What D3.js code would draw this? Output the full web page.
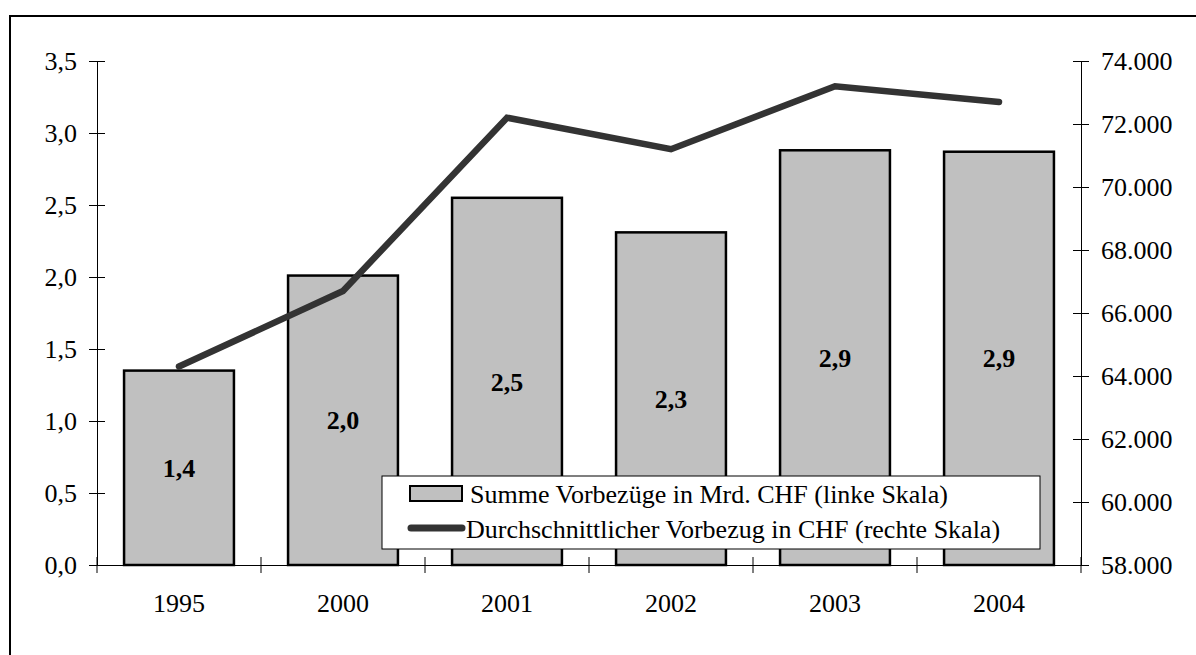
<!DOCTYPE html>
<html>
<head>
<meta charset="utf-8">
<script src="https://cdn.jsdelivr.net/npm/d3@7"></script>
<style>
  body { margin: 0; background: #fff; }
  svg text { font-family: "Liberation Serif", "Times New Roman", serif; fill: #000; }
</style>
</head>
<body>
<div id="chart"></div>
<script>
// data
var years = ["1995", "2000", "2001", "2002", "2003", "2004"];
var summeMrd = [1.35, 2.01, 2.55, 2.31, 2.88, 2.87];
var summeLabels = ["1,4", "2,0", "2,5", "2,3", "2,9", "2,9"];
var avgVorbezug = [64300, 66700, 72200, 71200, 73200, 72700];
var leftTicks = [0, 0.5, 1, 1.5, 2, 2.5, 3, 3.5];
var rightTicks = [58000, 60000, 62000, 64000, 66000, 68000, 70000, 72000, 74000];
var legendNames = [
  "Summe Vorbezüge in Mrd. CHF (linke Skala)",
  "Durchschnittlicher Vorbezug in CHF (rechte Skala)"
];

var W = 1196, H = 655;
var margin = { top: 61, right: 115, bottom: 90, left: 97 },
  width = 1081 - margin.left,
  height = 565 - margin.top;
var fontSize = "26px";

var de = d3.formatLocale({ decimal: ",", thousands: ".", grouping: [3], currency: ["", ""] });

var svg = d3.select("#chart").append("svg")
  .attr("width", W).attr("height", H);

// outer frame (only top/left edges fall inside the picture)
svg.append("rect")
  .attr("x", 10).attr("y", 16)
  .attr("width", 1300).attr("height", 800)
  .attr("fill", "none").attr("stroke", "#000").attr("stroke-width", 2);

var g = svg.append("g")
  .attr("transform", "translate(" + margin.left + "," + margin.top + ")");

var x = d3.scaleBand().domain(years).range([0, width])
  .paddingInner(0.33).paddingOuter(0.165);
var yL = d3.scaleLinear().domain([0, 3.5]).range([height, 0]);
var yR = d3.scaleLinear().domain([58000, 74000]).range([height, 0]);

function center(d) { return x(d) + x.bandwidth() / 2; }

// bars
g.selectAll(".bar")
  .data(years)
  .enter()
  .append("rect")
  .attr("class", "bar")
  .attr("x", (d) => x(d))
  .attr("width", x.bandwidth())
  .attr("y", (d, i) => yL(summeMrd[i]))
  .attr("height", (d, i) => height - yL(summeMrd[i]))
  .attr("fill", "#c0c0c0")
  .attr("stroke", "#000")
  .attr("stroke-width", 2.5);

// bar labels in the middle of each bar
g.selectAll(".bar-label")
  .data(years)
  .enter()
  .append("text")
  .attr("class", "bar-label")
  .attr("x", (d) => center(d))
  .attr("y", (d, i) => (yL(summeMrd[i]) + height) / 2)
  .attr("dy", "0.35em")
  .attr("text-anchor", "middle")
  .style("font-size", fontSize)
  .style("font-weight", "bold")
  .text((d, i) => summeLabels[i]);

// left axis
var leftAxis = g.append("g")
  .call(d3.axisLeft(yL).tickValues(leftTicks).tickSizeOuter(0).tickSizeInner(8).tickPadding(12)
    .tickFormat(de.format(".1f")));
leftAxis.selectAll(".tick line").attr("x1", 8).attr("x2", -8);

// right axis
var rightAxis = g.append("g")
  .attr("transform", "translate(" + width + ",0)")
  .call(d3.axisRight(yR).tickValues(rightTicks).tickSizeOuter(0).tickSizeInner(8).tickPadding(12)
    .tickFormat(de.format(",")));
rightAxis.selectAll(".tick line").attr("x1", -8).attr("x2", 8);

// bottom axis with ticks between categories
var bottomAxis = g.append("g")
  .attr("transform", "translate(0," + height + ")")
  .call(d3.axisBottom(x).tickSize(0).tickPadding(29));
bottomAxis.selectAll(".tick line").remove();
bottomAxis.selectAll(".divider")
  .data(d3.range(years.length + 1))
  .enter()
  .append("line")
  .attr("class", "divider")
  .attr("x1", (i) => i * x.step())
  .attr("x2", (i) => i * x.step())
  .attr("y1", -8).attr("y2", 8)
  .attr("stroke", "#000");

svg.selectAll(".domain").attr("stroke", "#000");
svg.selectAll(".tick text").style("font-size", fontSize);

// line series
var line = d3.line()
  .x((d, i) => center(years[i]))
  .y((d) => yR(d));

g.append("path")
  .datum(avgVorbezug)
  .attr("fill", "none")
  .attr("stroke", "#333333")
  .attr("stroke-width", 6.5)
  .attr("stroke-linejoin", "miter")
  .attr("stroke-linecap", "round")
  .attr("d", line);

// legend
var legend = svg.append("g").attr("transform", "translate(382,476)");
legend.append("rect")
  .attr("width", 658).attr("height", 73)
  .attr("fill", "#fff").attr("stroke", "#000").attr("stroke-width", 1);
legend.append("rect")
  .attr("x", 28).attr("y", 10).attr("width", 52).attr("height", 15)
  .attr("fill", "#c0c0c0").attr("stroke", "#000").attr("stroke-width", 2);
legend.append("line")
  .attr("x1", 29).attr("x2", 80).attr("y1", 52).attr("y2", 52)
  .attr("stroke", "#333333").attr("stroke-width", 7).attr("stroke-linecap", "round");
legend.selectAll(".legend-text")
  .data(legendNames)
  .enter()
  .append("text")
  .attr("class", "legend-text")
  .attr("x", (d, i) => (i === 0 ? 88 : 84))
  .attr("y", (d, i) => 27 + i * 35)
  .style("font-size", fontSize)
  .text((d) => d);
</script>
</body>
</html>
